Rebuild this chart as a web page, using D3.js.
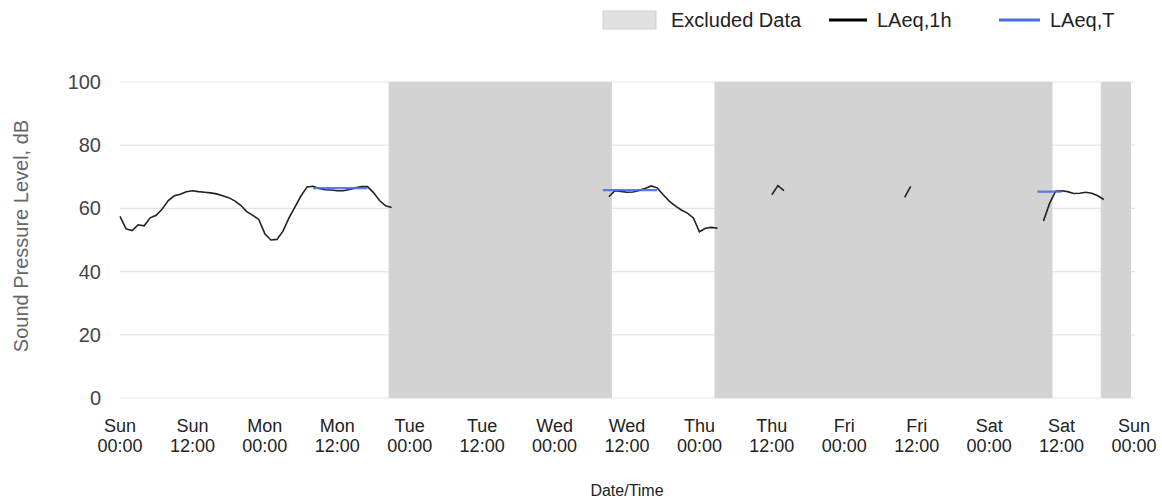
<!DOCTYPE html>
<html lang="en">
<head>
<meta charset="UTF-8">
<title>Sound Pressure Level</title>
<script src="https://d3js.org/d3.v7.min.js"></script>
<style>
  body { margin: 0; background: #fff; font-family: Arial, "Liberation Sans", sans-serif; }
  svg { display: block; }
</style>
</head>
<body>
<div id="chart"></div>
<script>
// x tick labels (every 12 hours over one week)
var tickDays = ["Sun","Sun","Mon","Mon","Tue","Tue","Wed","Wed","Thu","Thu","Fri","Fri","Sat","Sat","Sun"];
var tickTimes = ["00:00","12:00","00:00","12:00","00:00","12:00","00:00","12:00","00:00","12:00","00:00","12:00","00:00","12:00","00:00"];
var yTicks = [0, 20, 40, 60, 80, 100];

// LAeq,1h hourly values, each segment starts at the given hour after Sun 00:00
var sunMonStart = 0;
var sunMonValues = [57.5,53.5,53,54.8,54.5,57,57.8,59.8,62.5,64,64.5,65.3,65.6,65.3,65.1,64.9,64.6,64,63.4,62.4,61,59,57.8,56.5,52,50,50.2,52.8,57,60.5,64,66.8,67,66.3,65.9,65.8,65.6,65.6,66,66.5,66.9,66.9,65,62.5,60.8,60.3];
var wedThuStart = 81;
var wedThuValues = [63.7,65.6,65.4,65.1,65.2,65.7,66.3,67.1,66.5,64.3,62.3,60.8,59.5,58.5,57,52.6,53.7,54,53.7];
var thuStart = 108;
var thuValues = [64.3,67.2,65.6];
var friStart = 130;
var friValues = [63.5,67];
var satStart = 153;
var satValues = [56,61.5,65.4,65.6,65.3,64.7,64.8,65.1,64.8,64,62.8];

// LAeq,T periods (hours) and levels
var laeqTStart = [32, 80, 152];
var laeqTEnd = [41, 89, 156];
var laeqTValue = [66.4, 65.8, 65.3];

// Excluded data ranges (hours)
var excludedStart = [44.5, 98.5, 162.5];
var excludedEnd = [81.5, 154.5, 167.5];

var width = 1162, height = 503;
var t0 = Date.UTC(2023, 0, 1);
function hourToDate(h) { return new Date(t0 + h * 3600000); }

var x = d3.scaleUtc().domain([hourToDate(0), hourToDate(168)]).range([120, 1134]);
var y = d3.scaleLinear().domain([0, 100]).range([398, 82]);

var svg = d3.select("#chart").append("svg")
  .attr("width", width).attr("height", height);

// gridlines
svg.append("g").selectAll("line").data(yTicks).enter().append("line")
  .attr("x1", 120).attr("x2", 1135)
  .attr("y1", function(d) { return y(d); }).attr("y2", function(d) { return y(d); })
  .attr("stroke", "#e3e3e3").attr("stroke-width", 1.2);

// excluded areas
svg.append("g").selectAll("rect").data(excludedStart).enter().append("rect")
  .attr("x", function(d) { return x(hourToDate(d)); })
  .attr("width", function(d, i) { return x(hourToDate(excludedEnd[i])) - x(hourToDate(d)); })
  .attr("y", y(100)).attr("height", y(0) - y(100))
  .attr("fill", "#d3d3d3");

// LAeq,1h
var segments = [
  [sunMonStart, sunMonValues], [wedThuStart, wedThuValues], [thuStart, thuValues],
  [friStart, friValues], [satStart, satValues]
];
var line = d3.line()
  .x(function(d) { return x(hourToDate(d.h)); })
  .y(function(d) { return y(d.v); });
segments.forEach(function(s) {
  var pts = s[1].map(function(v, i) { return { h: s[0] + i, v: v }; });
  svg.append("path").datum(pts).attr("d", line)
    .attr("fill", "none").attr("stroke", "#222").attr("stroke-width", 1.6);
});

// LAeq,T
svg.append("g").selectAll("line").data(laeqTStart).enter().append("line")
  .attr("x1", function(d) { return x(hourToDate(d)); })
  .attr("x2", function(d, i) { return x(hourToDate(laeqTEnd[i])); })
  .attr("y1", function(d, i) { return y(laeqTValue[i]); })
  .attr("y2", function(d, i) { return y(laeqTValue[i]); })
  .attr("stroke", "#4a6fe3").attr("stroke-width", 2.2).attr("opacity", 0.9);

// y tick labels
svg.append("g").selectAll("text").data(yTicks).enter().append("text")
  .attr("x", 101).attr("y", function(d) { return y(d); })
  .attr("dy", "0.35em").attr("text-anchor", "end")
  .style("font-size", "20px").style("fill", "#444")
  .text(function(d) { return d; });

// x tick labels
var xTickHours = tickDays.map(function(d, i) { return i * 12; });
var xt = svg.append("g").selectAll("text").data(xTickHours).enter().append("text")
  .attr("text-anchor", "middle")
  .style("font-size", "18px").style("fill", "#222");
xt.append("tspan")
  .attr("x", function(d) { return x(hourToDate(d)); }).attr("y", 432)
  .text(function(d, i) { return tickDays[i]; });
xt.append("tspan")
  .attr("x", function(d) { return x(hourToDate(d)); }).attr("y", 452)
  .text(function(d, i) { return tickTimes[i]; });

// axis titles
svg.append("text")
  .attr("transform", "translate(28,236) rotate(-90)")
  .attr("text-anchor", "middle")
  .style("font-size", "20px").style("fill", "#666")
  .text("Sound Pressure Level, dB");
svg.append("text")
  .attr("x", 627).attr("y", 496).attr("text-anchor", "middle")
  .style("font-size", "16px").style("fill", "#222")
  .text("Date/Time");

// legend
var legend = svg.append("g").style("font-size", "20px").style("fill", "#222");
legend.append("rect").attr("x", 603).attr("y", 11).attr("width", 53).attr("height", 18)
  .attr("fill", "#e0e0e0").attr("stroke", "#cfcfcf");
legend.append("text").attr("x", 671).attr("y", 27).text("Excluded Data");
legend.append("line").attr("x1", 829).attr("x2", 867).attr("y1", 20).attr("y2", 20)
  .attr("stroke", "#000").attr("stroke-width", 3);
legend.append("text").attr("x", 877).attr("y", 27).text("LAeq,1h");
legend.append("line").attr("x1", 999).attr("x2", 1040).attr("y1", 20).attr("y2", 20)
  .attr("stroke", "#4a6fe3").attr("stroke-width", 3);
legend.append("text").attr("x", 1050).attr("y", 27).text("LAeq,T");
</script>
</body>
</html>
